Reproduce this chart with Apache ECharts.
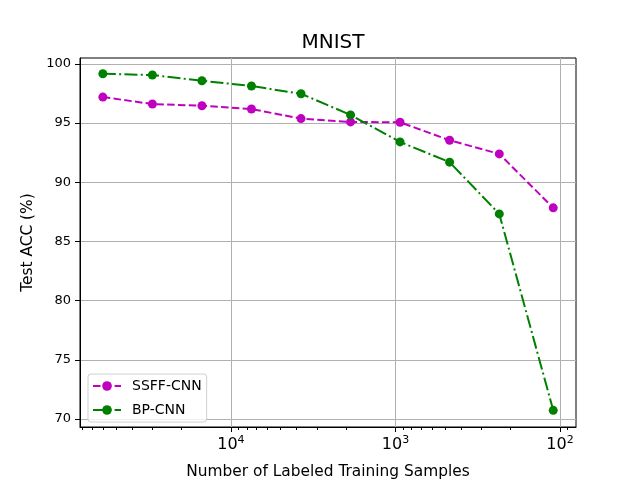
<!DOCTYPE html>
<html>
<head>
<meta charset="utf-8">
<style>
    html, body { margin: 0; padding: 0; background: #fff; }
    #main { width: 640px; height: 480px; }
</style>
<script src="https://cdn.jsdelivr.net/npm/echarts@6/dist/echarts.min.js"></script>
</head>
<body>
<div id="main"></div>
<script>
    // 数据
    var samples = [60000, 30000, 15000, 7500, 3750, 1875, 938, 469, 234, 110];
    var ssffAcc = [97.19, 96.60, 96.46, 96.18, 95.37, 95.09, 95.06, 93.54, 92.39, 87.83];
    var bpAcc = [99.16, 99.05, 98.57, 98.12, 97.47, 95.68, 93.40, 91.69, 87.32, 70.73];
    var xTicks = [100, 1000, 10000];
    var xMinorTicks = [90, 200, 300, 400, 500, 600, 700, 800, 900,
        2000, 3000, 4000, 5000, 6000, 7000, 8000, 9000,
        20000, 30000, 40000, 50000, 60000, 70000, 80000];
    var yTicks = [70, 75, 80, 85, 90, 95, 100];

    function pairs(xs, ys) {
        return xs.map(function (x, i) { return [x, ys[i]]; });
    }

    var font = 'DejaVu Sans';
    var ssffDash = [7.5, 3.3];
    var bpDash = [13, 3.3, 2, 3.3];
    var myChart = echarts.init(document.getElementById('main'));
    var option = {
        animation: false,
        backgroundColor: '#fff',
        textStyle: { fontFamily: font },
        title: {
            text: 'MNIST',
            left: 328,
            top: 28,
            textAlign: 'center',
            textStyle: { fontFamily: font, fontSize: 20, fontWeight: 'normal', color: '#000' }
        },
        grid: {
            left: 80, right: 64, top: 58, bottom: 53,
            outerBoundsMode: 'none',
            show: true, borderColor: '#000', borderWidth: 1, backgroundColor: 'transparent'
        },
        legend: {
            orient: 'vertical',
            left: 88, top: 374,
            itemWidth: 28, itemHeight: 12,
            itemGap: 10,
            padding: [5, 5, 5, 4],
            backgroundColor: 'rgba(255,255,255,0.8)',
            borderColor: '#d0d0d0', borderWidth: 1, borderRadius: 3,
            textStyle: { fontFamily: font, fontSize: 14, color: '#000', padding: [0, 0, 0, 6] },
            data: [
                { name: 'SSFF-CNN', lineStyle: { type: ssffDash, width: 2 } },
                { name: 'BP-CNN', lineStyle: { type: bpDash, width: 2 } }
            ]
        },
        xAxis: [{
            type: 'log',
            inverse: true,
            min: 80, max: 82600,
            name: 'Number of Labeled Training Samples',
            nameLocation: 'middle',
            nameGap: 37,
            nameTextStyle: { fontFamily: font, fontSize: 15.4, color: '#000' },
            axisLine: { lineStyle: { color: '#000' } },
            axisTick: { customValues: xTicks, length: 5, lineStyle: { color: '#000' } },
            axisLabel: {
                customValues: xTicks,
                color: '#000', margin: 8,
                formatter: function (v) {
                    return '10{sup|' + Math.round(Math.log10(v)) + '}';
                },
                rich: {
                    sup: { fontFamily: font, fontSize: 11, verticalAlign: 'top', padding: [0, 0, 8, 0], color: '#000' }
                },
                fontFamily: font, fontSize: 16
            },
            splitLine: { show: true, lineStyle: { color: '#b0b0b0', width: 1 } }
        }, {
            type: 'log',
            inverse: true,
            position: 'bottom',
            min: 80, max: 82600,
            axisLine: { show: false },
            axisTick: { customValues: xMinorTicks, length: 3, lineStyle: { color: '#000' } },
            axisLabel: { show: false },
            splitLine: { show: false }
        }],
        yAxis: {
            type: 'value',
            min: 69.32, max: 100.49,
            name: 'Test ACC (%)',
            nameLocation: 'middle',
            nameGap: 43,
            nameTextStyle: { fontFamily: font, fontSize: 15.4, color: '#000' },
            axisLine: { show: true, lineStyle: { color: '#000' } },
            axisTick: { show: true, customValues: yTicks, length: 5, lineStyle: { color: '#000' } },
            axisLabel: { customValues: yTicks, color: '#000', fontFamily: font, fontSize: 13, margin: 9 },
            splitLine: { show: true, lineStyle: { color: '#b0b0b0', width: 1 } }
        },
        series: [{
            name: 'SSFF-CNN',
            type: 'line',
            data: pairs(samples, ssffAcc),
            symbol: 'circle',
            symbolSize: 9,
            color: '#bf00bf',
            lineStyle: { width: 2, type: ssffDash },
            itemStyle: { color: '#bf00bf' }
        }, {
            name: 'BP-CNN',
            type: 'line',
            data: pairs(samples, bpAcc),
            symbol: 'circle',
            symbolSize: 9,
            color: '#008000',
            lineStyle: { width: 2, type: bpDash },
            itemStyle: { color: '#008000' }
        }]
    };
    myChart.setOption(option);
</script>
</body>
</html>
